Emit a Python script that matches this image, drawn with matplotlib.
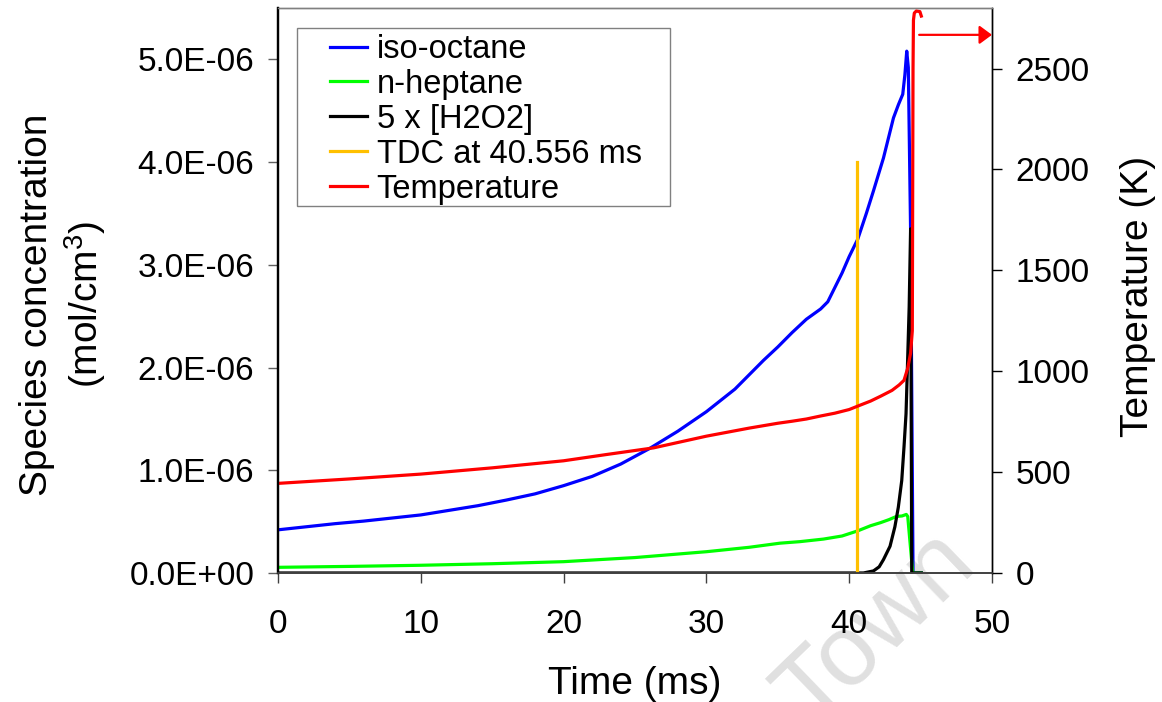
import matplotlib
matplotlib.use("Agg")
import matplotlib.pyplot as plt
from matplotlib.patches import Rectangle
from matplotlib.ticker import FuncFormatter, MultipleLocator

plt.rcParams["font.family"] = ["Liberation Sans", "DejaVu Sans"]
plt.rcParams["mathtext.default"] = "regular"

# iso-octane concentration (1e-6 mol/cm3) vs time (ms)
t_iso = [0, 2, 4, 6, 8, 10, 12, 14, 16, 18, 20, 22, 24, 26, 28, 30, 32, 34, 35, 36,
         37, 38, 38.5, 39, 39.5, 40, 40.6, 41.2, 41.7, 42.4, 43.1, 43.45, 43.75,
         43.9, 44.03, 44.14, 44.3, 44.47, 45.05]
iso_octane = [0.42, 0.45, 0.48, 0.505, 0.535, 0.565, 0.61, 0.655, 0.71, 0.77, 0.85,
              0.94, 1.06, 1.21, 1.38, 1.57, 1.79, 2.07, 2.2, 2.34, 2.47, 2.57, 2.64,
              2.78, 2.92, 3.08, 3.25, 3.5, 3.72, 4.04, 4.43, 4.56, 4.66, 4.85, 5.08,
              4.92, 3.33, 0.0, 0.0]

# n-heptane concentration (1e-6 mol/cm3)
t_hep = [0, 5, 10, 15, 20, 25, 30, 33, 35.15, 36.55, 38.2, 39.5, 40.6, 41.5,
         42.2, 42.8, 43.3, 43.7, 44.0, 44.1, 44.45, 45.05]
n_heptane = [0.055, 0.064, 0.075, 0.09, 0.11, 0.15, 0.207, 0.25, 0.29, 0.305, 0.33,
             0.36, 0.41, 0.46, 0.49, 0.52, 0.55, 0.555, 0.57, 0.55, 0.0, 0.0]

# 5 x H2O2 concentration (1e-6 mol/cm3)
t_h2o2 = [0, 41.0, 41.7, 42.1, 42.4, 42.86, 43.2, 43.44, 43.68, 43.84, 43.98,
          44.05, 44.2, 44.3, 44.38, 45.05]
h2o2_x5 = [0, 0, 0.02, 0.06, 0.13, 0.26, 0.45, 0.64, 0.90, 1.23, 1.55, 1.87,
           2.59, 3.35, 0, 0]

# in-cylinder temperature (K)
t_temp = [0, 5, 10, 15, 20, 23, 26.3, 30, 33, 35, 36, 37, 38, 39, 40, 40.6, 41.5,
          42.2, 43, 43.5, 43.84, 44.1, 44.3, 44.42, 44.47, 44.5, 44.56, 44.7, 44.95,
          45.05]
temperature = [444, 466, 490, 521, 556, 587, 620, 678, 718, 742, 752, 763, 778, 792,
               810, 827, 852, 876, 905, 932, 955, 1015, 1090, 1200, 2500, 2740, 2775,
               2785, 2782, 2760]

tdc_time = 40.556
tdc_top = 4.0  # 1e-6 mol/cm3
arrow_temp = 2667
arrow_from, arrow_to = 44.9, 50

x_ticks = [0, 10, 20, 30, 40, 50]


def umol(vals):
    return [v * 1e-6 for v in vals]


fig = plt.figure(figsize=(11.62, 7.02), dpi=100)
ax = fig.add_axes([0.2392, 0.1838, 0.6145, 0.8048])
ax2 = ax.twinx()
ax.patch.set_visible(False)
ax2.patch.set_visible(False)

lw = 2.3
l_iso, = ax.plot(t_iso, umol(iso_octane), color="#0000FF", lw=lw, label="iso-octane")
l_hep, = ax.plot(t_hep, umol(n_heptane), color="#00FF00", lw=lw, label="n-heptane")
l_h2o2, = ax.plot(t_h2o2, umol(h2o2_x5), color="black", lw=lw, label="5 x [H2O2]")
l_tdc, = ax.plot([tdc_time, tdc_time], [0, tdc_top * 1e-6], color="#FFC000", lw=lw,
                 label="TDC at 40.556 ms")
l_temp, = ax2.plot(t_temp, temperature, color="#FF0000", lw=lw, label="Temperature")

ax2.annotate("", xy=(arrow_to, arrow_temp), xytext=(arrow_from, arrow_temp),
             arrowprops=dict(arrowstyle="-|>,head_length=0.38,head_width=0.28",
                             color="#FF0000", lw=1.6, shrinkA=0, shrinkB=0,
                             mutation_scale=20),
             annotation_clip=False)

ax.set_xlim(0, 50)
ax.set_ylim(0, 5.5e-6)
ax2.set_ylim(0, 2800)
ax.set_xticks(x_ticks)
ax.yaxis.set_major_locator(MultipleLocator(1e-6))
ax.yaxis.set_major_formatter(FuncFormatter(lambda v, p: f"{v:.1E}"))
ax2.yaxis.set_major_locator(MultipleLocator(500))

ax.tick_params(axis="both", direction="out", length=7, width=1, labelsize=24,
               colors="black")
ax.tick_params(axis="x", pad=19, color="#404040")
ax.tick_params(axis="y", pad=10, color="#606060")
ax2.tick_params(axis="y", direction="out", length=7, width=1, labelsize=24, pad=10)

for a in (ax, ax2):
    a.spines["top"].set_color("#808080")
    a.spines["top"].set_linewidth(1)
    a.spines["bottom"].set_color("#404040")
    a.spines["bottom"].set_linewidth(1.2)
    a.spines["right"].set_color("black")
    a.spines["right"].set_linewidth(1)
    a.spines["left"].set_color("black")
    a.spines["left"].set_linewidth(1.6)

ax.set_xlabel("Time (ms)", fontsize=28)
ax.xaxis.set_label_coords(0.5, -0.164)
ax.set_ylabel("Species concentration\n(mol/cm$^{3}$)", fontsize=28, linespacing=1.2)
ax.yaxis.set_label_coords(-0.238, 0.475)
ax2.set_ylabel("Temperature (K)", fontsize=28)
ax2.yaxis.set_label_coords(1.179, 0.49)

# legend box drawn separately so the padding can differ per side
ax2.add_patch(Rectangle((0.0266, 0.6496), 0.5224, 0.315, transform=ax2.transAxes,
                        facecolor="white", edgecolor="#808080", lw=1, zorder=4))
leg = ax2.legend(handles=[l_iso, l_hep, l_h2o2, l_tdc, l_temp], loc="upper left",
                 bbox_to_anchor=(0.0728, 0.954), borderaxespad=0, borderpad=0,
                 fontsize=23.5, frameon=False, handlelength=1.15,
                 handletextpad=0.28, labelspacing=0.12)
leg.set_zorder(5)

fig.text(0.755, 0.104, "Town", rotation=44, fontsize=72, color="#e0e0e0",
         ha="center", va="center", rotation_mode="anchor", zorder=-1)

fig.savefig("out.png", dpi=100)
